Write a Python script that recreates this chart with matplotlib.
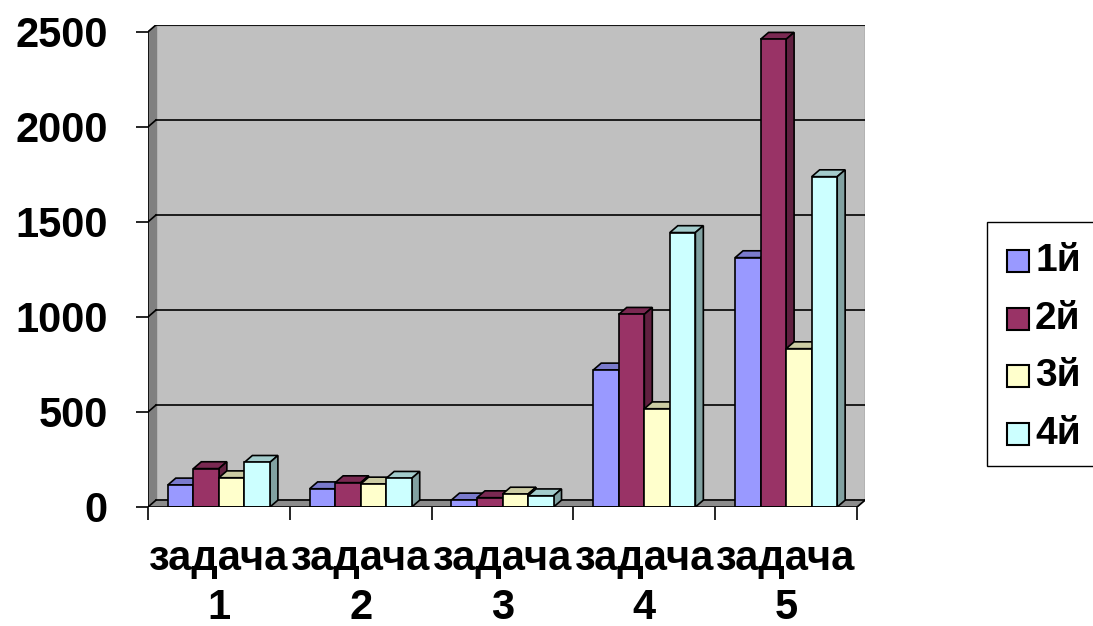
import matplotlib.pyplot as plt
from matplotlib.patches import Rectangle
import numpy as np

plt.rcParams['font.family'] = ['Liberation Sans', 'DejaVu Sans']
plt.rcParams['font.weight'] = 'bold'

# данные
tasks = ['задача\n1', 'задача\n2', 'задача\n3', 'задача\n4', 'задача\n5']
series = ['1й', '2й', '3й', '4й']
s1 = [116, 96, 37, 721, 1312]
s2 = [202, 128, 49, 1014, 2461]
s3 = [154, 121, 68, 517, 833]
s4 = [235, 151, 59, 1444, 1738]
colors = ['#9999FF', '#993366', '#FFFFCC', '#CCFFFF']
yticks = [0, 500, 1000, 1500, 2000, 2500]

W, H = 1093, 626
fig = plt.figure(figsize=(W / 100, H / 100), dpi=100)
ax = fig.add_axes([148 / W, 1 - 507 / H, (865 - 148) / W, (507 - 25) / H])

n = len(tasks)
dx, dy = 0.056, 36      # глубина "3D" в единицах данных
ymax = yticks[-1]
ax.set_xlim(0, n + dx)
ax.set_ylim(0, ymax + dy)
for s in ax.spines.values():
    s.set_visible(False)

# задняя стенка, боковая стенка, пол
ax.add_patch(Rectangle((dx, dy), n, ymax, facecolor='#C0C0C0', edgecolor='#808080', lw=1, zorder=0))
ax.fill([0, dx, dx, 0], [0, dy, ymax + dy, ymax], color='#808080', zorder=0.5)
ax.fill([0, n, n + dx, dx], [0, 0, dy, dy], color='#8C8C8C', zorder=0.5)
for v in yticks:
    ax.plot([dx, n + dx], [v + dy, v + dy], color='black', lw=1.2, zorder=1)
    ax.plot([0, dx], [v, v + dy], color='black', lw=1.2, zorder=1)
ax.plot([0, 0], [0, ymax], color='black', lw=1.2, zorder=1)
ax.plot([0, n], [0, 0], color='black', lw=1.2, zorder=10)
ax.plot([n, n + dx], [0, dy], color='black', lw=1.2, zorder=10)


def shade(c, f):
    r, g, b = [int(c[i:i + 2], 16) / 255 for i in (1, 3, 5)]
    return (r * f, g * f, b * f)


bw = 0.18
off = (1 - bw * len(series)) / 2
data = [s1, s2, s3, s4]
for j, vals in enumerate(data):
    xs = np.arange(n) + off + j * bw
    ax.bar(xs, vals, width=bw, align='edge', color=colors[j], edgecolor='black',
           lw=1.2, zorder=3 + j + 0.5)
    for x0, h in zip(xs, vals):
        ax.fill([x0, x0 + bw, x0 + bw + dx, x0 + dx], [h, h, h + dy, h + dy],
                facecolor=shade(colors[j], 0.8), edgecolor='black', lw=1.2, zorder=3 + j)
        ax.fill([x0 + bw, x0 + bw + dx, x0 + bw + dx, x0 + bw], [0, dy, h + dy, h],
                facecolor=shade(colors[j], 0.63), edgecolor='black', lw=1.2, zorder=3 + j)

ax.set_yticks(yticks)
ax.set_yticklabels([str(v) for v in yticks], fontsize=30, fontweight='bold')
ax.tick_params(axis='y', length=9, width=1.2, pad=20, direction='out')
ax.set_xticks(np.arange(n + 1))
ax.set_xticklabels([])
ax.tick_params(axis='x', which='major', length=9.5, width=1.2, direction='out')
ax.set_xticks(np.arange(n) + 0.5, minor=True)
ax.set_xticklabels(tasks, minor=True, fontsize=30, fontweight='bold', linespacing=1.3)
ax.tick_params(axis='x', which='minor', length=0, pad=23)

# легенда
def fx(p):
    return p / W


def fy(p):
    return 1 - p / H


fig.add_artist(Rectangle((fx(987), fy(466)), fx(1100) - fx(987), fy(222) - fy(466),
                         transform=fig.transFigure, facecolor='white', edgecolor='black', lw=1))
for j, name in enumerate(series):
    yc = 261 + j * 57.7
    fig.add_artist(Rectangle((fx(1007), fy(yc + 11)), fx(22), 22 / H, transform=fig.transFigure,
                             facecolor=colors[j], edgecolor='black', lw=1.5))
    fig.text(fx(1035), fy(yc), name, fontsize=28, fontweight='bold', va='center', ha='left')

fig.savefig('out.png', dpi=100)
